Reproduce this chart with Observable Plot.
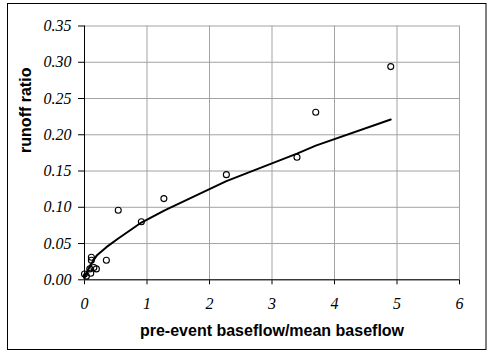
<!DOCTYPE html>
<html>
<head>
<meta charset="utf-8">
<script src="https://cdn.jsdelivr.net/npm/d3@7"></script>
<script src="https://cdn.jsdelivr.net/npm/@observablehq/plot@0.6"></script>
<style>
  html, body { margin: 0; padding: 0; background: #fff; }
  #chart { position: relative; width: 488px; height: 354px; }
  #chart svg { display: block; }
</style>
</head>
<body>
<div id="chart"></div>
<script>
// Observed points
const obsX = [0.00, 0.03, 0.085, 0.10, 0.11, 0.11, 0.15, 0.19, 0.35, 0.54, 0.91, 1.27, 2.27, 3.40, 3.70, 4.90];
const obsY = [0.008, 0.005, 0.015, 0.009, 0.031, 0.027, 0.017, 0.015, 0.027, 0.096, 0.080, 0.112, 0.145, 0.169, 0.231, 0.294];

// Fitted curve
const fitX = [0.01, 0.03, 0.10, 0.20, 0.35, 0.54, 0.91, 1.29, 2.27, 3.40, 3.70, 4.90];
const fitY = [0.004, 0.009, 0.021, 0.034, 0.045, 0.057, 0.079, 0.096, 0.136, 0.174, 0.185, 0.221];

const xTicks = [0, 1, 2, 3, 4, 5, 6];
const yTicks = [0, 0.05, 0.10, 0.15, 0.20, 0.25, 0.30, 0.35];

const xTitle = "pre-event baseflow/mean baseflow";
const yTitle = "runoff ratio";

const points = obsX.map((x, i) => ({x, y: obsY[i]}));
const fit = fitX.map((x, i) => ({x, y: fitY[i]}));

const gridColor = "#a3a3a3";
const serif = "'Liberation Serif', 'Times New Roman', serif";
const sans = "'Liberation Sans', Arial, sans-serif";

const chart = Plot.plot({
  width: 488,
  height: 354,
  marginLeft: 84,
  marginRight: 29,
  marginTop: 25.5,
  marginBottom: 74.7,
  style: {
    fontFamily: serif,
    fontSize: "16px",
    color: "#000",
    background: "#fff"
  },
  x: {
    domain: [0, 6],
    ticks: xTicks,
    tickFormat: d3.format("d"),
    tickSize: 5,
    tickPadding: 13,
    label: null
  },
  y: {
    domain: [0, 0.35],
    ticks: yTicks,
    tickFormat: d3.format(".2f"),
    tickSize: 6,
    tickPadding: 7,
    label: null
  },
  marks: [
    Plot.ruleX(xTicks, {y1: 0, y2: 0.35, stroke: gridColor, strokeWidth: 1}),
    Plot.ruleY(yTicks, {x1: 0, x2: 6, stroke: gridColor, strokeWidth: 1}),
    Plot.ruleX([0], {y1: 0, y2: 0.35, stroke: "#000", strokeWidth: 1}),
    Plot.ruleY([0], {x1: 0, x2: 6, stroke: "#000", strokeWidth: 1}),
    Plot.line(fit, {x: "x", y: "y", stroke: "#000", strokeWidth: 2}),
    Plot.dot(points, {x: "x", y: "y", r: 3, stroke: "#000", strokeWidth: 1.1, fill: "none"}),
    Plot.text([xTitle], {
      frameAnchor: "bottom", dy: 51, text: d => d,
      fontFamily: sans, fontWeight: "bold", fontStyle: "normal", fontSize: 16,
      lineAnchor: "middle", fill: "#000"
    }),
    Plot.text([yTitle], {
      frameAnchor: "left", dx: -59, rotate: -90, text: d => d,
      fontFamily: sans, fontWeight: "bold", fontStyle: "normal", fontSize: 16,
      lineAnchor: "middle", fill: "#000"
    })
  ]
});

document.getElementById("chart").appendChild(chart);

// Axis tick labels: italic serif
d3.select(chart).selectAll("text")
  .filter(function() { return !this.closest('g[aria-label="text"]'); })
  .style("font-family", serif)
  .style("font-style", "italic")
  .style("font-size", "16px")
  .style("fill", "#000");
d3.select(chart).selectAll("text")
  .filter(function() { return !this.closest('g[aria-label="text"]'); })
  .each(function() {
    const g = this.parentNode;
    if (g) { g.setAttribute("font-family", serif); g.setAttribute("font-size", "16"); g.setAttribute("font-style", "italic"); }
  });

// Outer border around the whole chart
d3.select(chart).append("rect")
  .attr("x", 7.5).attr("y", 3.5)
  .attr("width", 478.5).attr("height", 346)
  .attr("fill", "none").attr("stroke", "#000").attr("stroke-width", 1);
</script>
</body>
</html>
